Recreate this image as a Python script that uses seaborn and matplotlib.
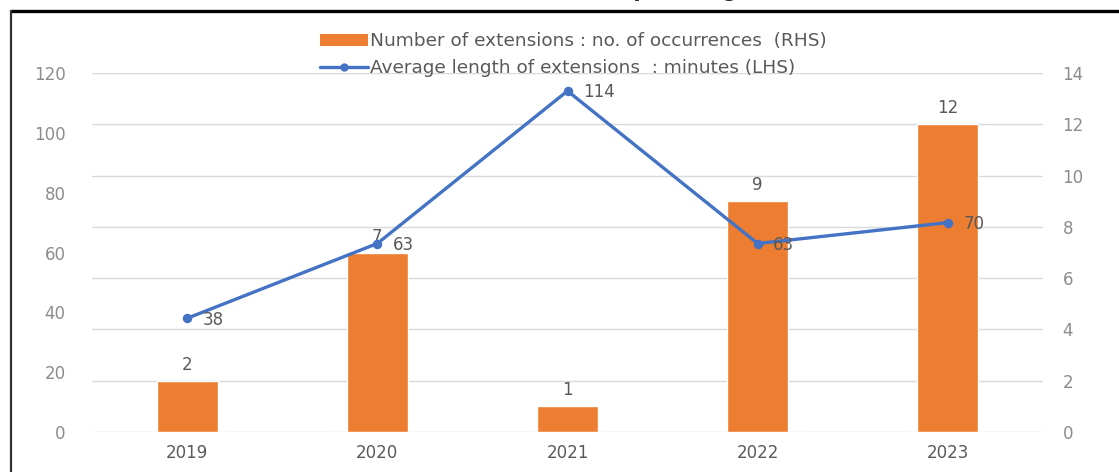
import numpy as np
import pandas as pd
import matplotlib
matplotlib.use("Agg")
import matplotlib.pyplot as plt
from matplotlib.lines import Line2D
from matplotlib.patches import Patch
import seaborn as sns

# data
years = ["2019", "2020", "2021", "2022", "2023"]
n_extensions = [2, 7, 1, 9, 12]          # bars, right axis
avg_minutes = [38, 63, 114, 63, 70]      # line, left axis

ORANGE = "#ED7D31"
BLUE = "#4472C4"
GRID = "#D9D9D9"
TXT = "#595959"
TICK = "#8C8C8C"
FS = 12

sns.set_theme(style="white")
plt.rcParams["font.family"] = ["DejaVu Sans"]

df = pd.DataFrame({"year": years, "count": n_extensions, "minutes": avg_minutes})

fig = plt.figure(figsize=(11.19, 4.72), dpi=100)
ax = fig.add_axes([92 / 1119, 1 - 432 / 472, (1043 - 92) / 1119, (432 - 73) / 472])

# bars on the bottom axes (shown on the right side)
sns.barplot(data=df, x="year", y="count", color=ORANGE, width=0.32,
            saturation=1, ax=ax, zorder=2)
ax.set_ylim(0, 14)
ax.set_yticks(np.arange(0, 15, 2))
ax.grid(axis="y", color=GRID, linewidth=1, zorder=0)
ax.set_axisbelow(True)
ax.bar_label(ax.containers[0], labels=[str(v) for v in n_extensions],
             padding=5, color=TXT, fontsize=FS)

# line on the twin axes (shown on the left side)
ax2 = ax.twinx()
sns.pointplot(data=df, x="year", y="minutes", color=BLUE, markers="o",
              markersize=5, linewidth=2.4, ax=ax2)
ax2.set_ylim(0, 120)
ax2.set_yticks(np.arange(0, 121, 20))
ax2.yaxis.tick_left()
ax.yaxis.tick_right()
for i, v in enumerate(avg_minutes):
    ax2.annotate(str(v), (i, v), xytext=(11, -1), textcoords="offset points",
                 ha="left", va="center", color=TXT, fontsize=FS)

for a in (ax, ax2):
    a.set_xlabel("")
    a.set_ylabel("")
    for s in a.spines.values():
        s.set_visible(False)
    a.tick_params(axis="y", length=0, colors=TICK, labelsize=FS)
    a.tick_params(axis="x", length=0, colors=TXT, labelsize=FS, pad=9)
ax.tick_params(axis="y", pad=14)
ax2.tick_params(axis="y", pad=19)
ax.set_xlim(-0.5, 4.5)

# legend at the top
handles = [Patch(facecolor=ORANGE, edgecolor="none"),
           Line2D([0], [0], color=BLUE, linewidth=2.4, marker="o", markersize=5)]
labels = ["Number of extensions : no. of occurrences  (RHS)",
          "Average length of extensions  : minutes (LHS)"]
fig.legend(handles, labels, loc="upper center", bbox_to_anchor=(573 / 1119, 1 - 25 / 472),
           frameon=False, fontsize=13.3, handlelength=2.6, handletextpad=0.1,
           labelspacing=0.45, labelcolor=TXT, borderaxespad=0, handleheight=0.6)

# cropped title and frame lines from the original page
fig.text(428 / 1119, 1 + 5 / 472, "Extensions of speaking time", fontsize=20,
         fontweight="bold", family="Liberation Sans", ha="left", va="baseline")
fig.add_artist(Line2D([11 / 1119, 1], [1 - 11 / 472, 1 - 11 / 472],
                      transform=fig.transFigure, color="black", linewidth=2.4))
fig.add_artist(Line2D([11 / 1119, 11 / 1119], [0, 1 - 11 / 472],
                      transform=fig.transFigure, color="#333333", linewidth=1.6))

fig.savefig("out.png", dpi=100)
